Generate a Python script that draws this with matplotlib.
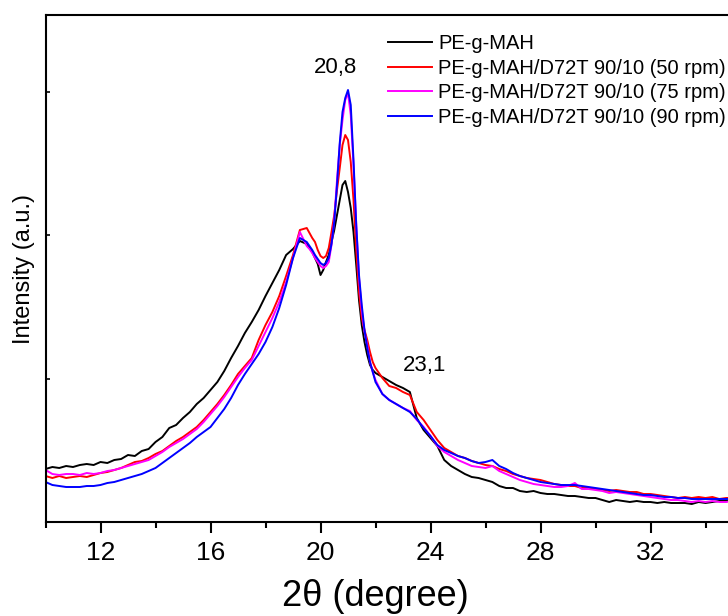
import numpy as np
import matplotlib
matplotlib.use("Agg")
from matplotlib import pyplot as plt
from matplotlib.ticker import MultipleLocator

plt.rcParams['font.family'] = ['Liberation Sans', 'DejaVu Sans']

# 2theta sampling: coarse on the wings, finer around the main peak
two_theta = np.concatenate([np.arange(10.0, 19.3, 0.25),
                            np.arange(19.5, 21.95, 0.1),
                            np.arange(22.0, 35.01, 0.25)])

pe_g_mah = [53, 55, 54, 56, 55, 57, 58, 57, 60, 59, 62, 63, 67, 66, 71, 73, 80, 85, 94, 97,
            104, 110, 118, 124, 132, 140, 151, 164, 176, 189, 200, 212, 226, 239, 252, 267, 273, 281,
            278, 274, 270, 264, 258, 247, 252, 260, 267, 280, 292, 307, 322, 337, 341, 330, 314, 290,
            257, 222, 197, 180, 167, 157, 152,
            149, 145, 141, 137, 134, 130, 104, 92, 84, 76, 62, 56, 52, 48, 45, 44, 42, 40, 36, 34,
            34, 31, 30, 31, 29, 28, 28, 27, 26, 26, 25, 24, 24, 22, 20, 22, 21, 20, 21, 20,
            20, 19, 20, 19, 19, 19, 18, 20, 19, 20, 21, 21, 21]

rpm50 = [46, 44, 46, 44, 45, 46, 45, 47, 49, 50, 52, 54, 57, 60, 61, 64, 68, 71, 76, 81,
         85, 90, 95, 102, 110, 118, 127, 137, 148, 156, 164, 182, 197, 210, 226, 246, 267, 292,
         294, 289, 284, 280, 272, 266, 264, 266, 274, 290, 307, 332, 354, 377, 387, 382, 360, 322,
         272, 230, 204, 192, 182, 170, 160,
         154, 144, 136, 134, 130, 127, 110, 102, 92, 82, 74, 70, 66, 64, 61, 59, 57, 56, 53, 51,
         48, 46, 44, 43, 42, 40, 38, 37, 36, 36, 34, 34, 33, 32, 31, 32, 31, 30, 30, 28,
         28, 27, 26, 25, 24, 25, 24, 25, 24, 25, 23, 24, 24]

rpm75 = [52, 48, 47, 48, 48, 47, 49, 48, 49, 51, 52, 54, 56, 58, 60, 62, 66, 70, 75, 79,
         83, 88, 93, 100, 108, 116, 125, 135, 145, 154, 162, 176, 190, 204, 220, 240, 264, 290,
         276, 273, 269, 264, 260, 256, 254, 256, 260, 277, 302, 342, 377, 402, 422, 429, 407, 357,
         297, 244, 212, 190, 177, 160, 150,
         142, 128, 122, 118, 114, 111, 102, 95, 86, 76, 70, 66, 62, 59, 56, 55, 54, 56, 51, 48,
         45, 42, 40, 38, 37, 36, 35, 35, 36, 39, 33, 33, 32, 31, 29, 30, 29, 28, 27, 26,
         25, 24, 23, 22, 22, 21, 20, 21, 20, 21, 20, 20, 21]

rpm90 = [40, 37, 36, 35, 35, 35, 36, 36, 37, 39, 40, 42, 44, 46, 48, 51, 54, 59, 64, 69,
         74, 79, 85, 90, 95, 104, 113, 124, 137, 148, 158, 168, 180, 195, 214, 237, 264, 284,
         280, 276, 272, 267, 263, 259, 257, 259, 264, 278, 300, 337, 379, 410, 424, 432, 417, 362,
         297, 247, 217, 192, 174, 160, 150,
         140, 128, 122, 118, 114, 110, 103, 94, 86, 77, 72, 69, 66, 64, 61, 59, 60, 62, 56, 53,
         49, 46, 44, 42, 40, 39, 38, 37, 37, 37, 36, 35, 34, 33, 32, 31, 30, 29, 28, 27,
         27, 26, 25, 25, 24, 24, 23, 23, 23, 23, 23, 23, 23]

labels = ['PE-g-MAH',
          'PE-g-MAH/D72T 90/10 (50 rpm)',
          'PE-g-MAH/D72T 90/10 (75 rpm)',
          'PE-g-MAH/D72T 90/10 (90 rpm)']
colors = ['black', 'red', 'magenta', 'blue']

fig = plt.figure(figsize=(7.28, 6.16), dpi=100)
# the original axes run off the right edge of the picture
ax = fig.add_axes([45.5 / 728, 94 / 616, 825 / 728, 507 / 616])

for series, lab, c in zip([pe_g_mah, rpm50, rpm75, rpm90], labels, colors):
    ax.plot(two_theta, series, color=c, lw=1.4, label=lab)

ax.set_xlim(10, 40)
ax.set_ylim(0, 507)
ax.set_xticks([12, 16, 20, 24, 28, 32])
ax.xaxis.set_minor_locator(MultipleLocator(2))
ax.yaxis.set_major_locator(MultipleLocator(143.5))
ax.set_yticklabels([])
ax.tick_params(axis='x', which='major', direction='out', length=8, width=1.5,
               labelsize=19, pad=6)
ax.tick_params(axis='x', which='minor', direction='out', length=4.5, width=1.5)
ax.tick_params(axis='y', which='major', direction='in', length=3, width=1.2, left=True)
for sp in ax.spines.values():
    sp.set_linewidth(1.5)

ax.set_xlabel('2θ (degree)', fontsize=26)
ax.xaxis.set_label_coords(0.3994, -0.112)
ax.set_ylabel('Intensity (a.u.)', fontsize=17, labelpad=4)

ax.text(20.53, 455, '20,8', fontsize=16, ha='center', va='center')
ax.text(23.8, 157, '23,1', fontsize=16, ha='center', va='center')

leg = ax.legend(loc='upper left', bbox_to_anchor=(388 / 728, 1 - 34 / 616),
                bbox_transform=fig.transFigure, frameon=False,
                fontsize=14.5, handlelength=2.2, handletextpad=0.3, labelspacing=0.28,
                borderpad=0, borderaxespad=0)

fig.savefig('out.png', dpi=100)
